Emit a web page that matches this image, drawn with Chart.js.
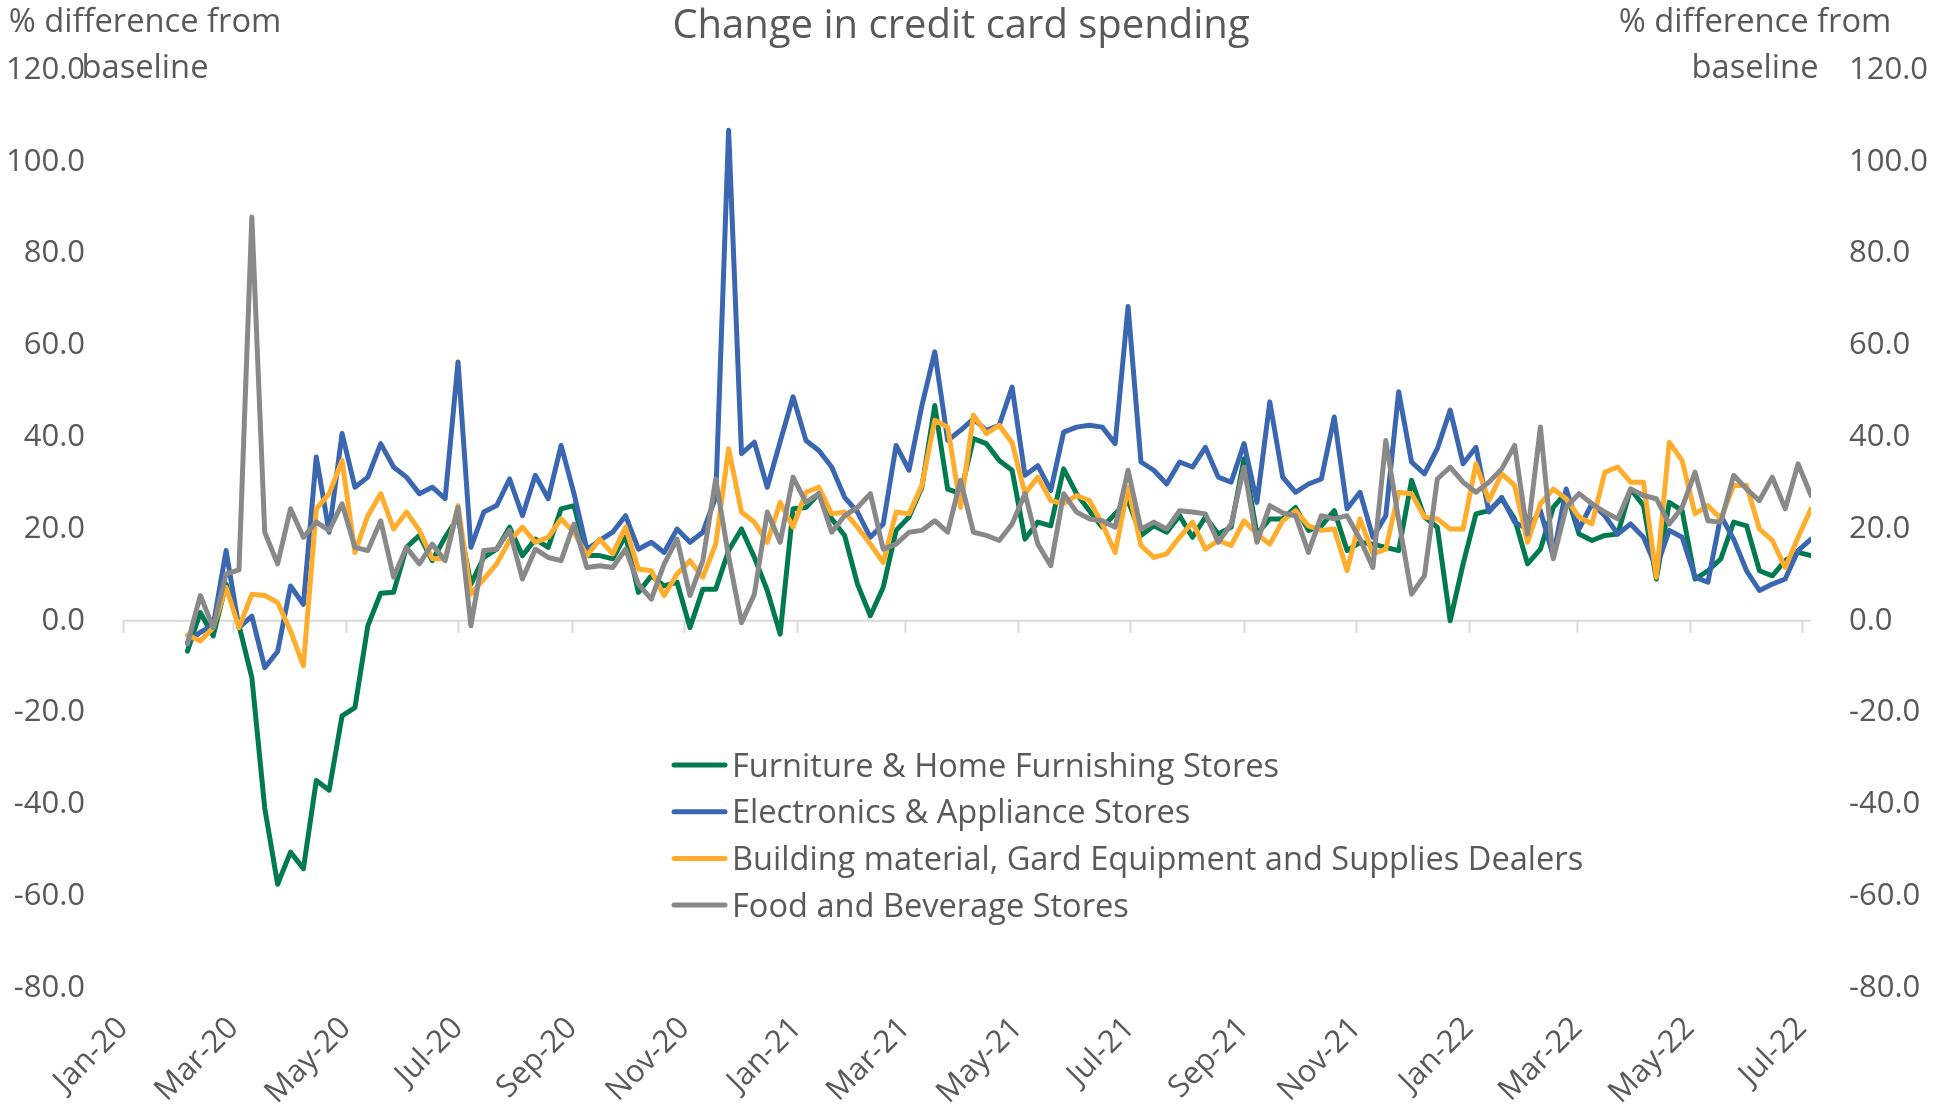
<!DOCTYPE html>
<html>
<head>
<meta charset="utf-8">
<script src="https://cdn.jsdelivr.net/npm/chart.js@4.4.1/dist/chart.umd.min.js"></script>
<style>
  html, body { margin: 0; padding: 0; background: #fff; }
  canvas { display: block; }
</style>
</head>
<body>
<canvas id="chart" width="1934" height="1118"></canvas>
<script>
// weekly readings, first week 5 Feb 2020, one value per week
var firstWeek = [2020, 1, 5];
var tickLabels = ['Jan-20','Mar-20','May-20','Jul-20','Sep-20','Nov-20','Jan-21','Mar-21','May-21','Jul-21','Sep-21','Nov-21','Jan-22','Mar-22','May-22','Jul-22'];
var seriesNames = [
    'Furniture & Home Furnishing Stores',
    'Electronics & Appliance Stores',
    'Building material, Gard Equipment and Supplies Dealers',
    'Food and Beverage Stores'
];
var seriesColors = ['#007A4E', '#3A67B0', '#FFAD2D', '#898989'];

var furniture = [
    -6.6, 1.8, -3.3, 8, -1, -12.4, -40.8, -57.4, -50.4, -54,
    -34.8, -36.9, -20.7, -18.9, -1.1, 6, 6.2, 16, 18.6, 13.1,
    18.2, 22.6, 8, 13.8, 15.6, 20.4, 14.2, 17.8, 16, 24.4,
    25.1, 14.2, 14.2, 13.5, 18.6, 6.2, 9.8, 7.6, 8.4, -1.5,
    6.9, 6.9, 15.3, 20, 13.8, 6.6, -2.9, 24.4, 24.7, 27.7,
    22.2, 18.6, 8, 1.1, 7.3, 19.7, 22.6, 29.1, 46.9, 28.7,
    27.7, 39.7, 38.6, 34.9, 32.8, 17.8, 21.5, 20.7, 33.1, 27.7,
    24, 20.4, 23.3, 26.2, 18.6, 20.7, 19.3, 22.9, 18.2, 22.6,
    18.9, 20.4, 35.3, 18.9, 22.2, 22.2, 24.7, 19.7, 20.7, 24,
    15.3, 17.1, 16.7, 16, 15.3, 30.6, 22.6, 20.4, 0, 12.4,
    23.3, 24, 26.6, 22.2, 12.4, 15.6, 24.7, 28, 18.9, 17.5,
    18.6, 18.9, 28.7, 25.1, 9.1, 25.8, 24, 9.1, 10.9, 13.5,
    21.5, 20.7, 10.9, 9.8, 13.1, 14.9, 14.2
];
var electronics = [
    -4.7, -2.5, -1, 15.3, -1.5, 1, -10.2, -6.7, 7.6, 3.6,
    35.7, 19.3, 40.8, 29.1, 31.3, 38.6, 33.5, 31.3, 27.7, 29.1,
    26.6, 56.4, 16, 23.7, 25.1, 30.9, 22.9, 31.7, 26.6, 38.2,
    27.7, 15.6, 17.5, 19.3, 22.9, 15.6, 17.1, 14.9, 20, 17.1,
    19.3, 27, 106.9, 36.4, 38.9, 29.1, 39, 48.8, 39.3, 37.1,
    33.5, 26.9, 23.7, 18.2, 21.1, 38.2, 32.8, 46.9, 58.6, 39.3,
    41.5, 44, 41.5, 42.6, 50.9, 31.7, 33.8, 28.4, 41.1, 42.2,
    42.6, 42.2, 38.6, 68.5, 34.6, 32.8, 29.8, 34.6, 33.5, 37.8,
    31.3, 30.2, 38.6, 25.8, 47.7, 31.3, 28, 29.8, 30.9, 44.4,
    24.4, 28, 18.2, 22.9, 49.9, 34.6, 32, 37.5, 45.9, 34.2,
    37.8, 23.7, 26.9, 21.5, 20, 24, 14, 28.7, 20, 25.5,
    22.9, 18.9, 21.1, 18.2, 11.6, 19.7, 18.2, 9.5, 8.4, 22.9,
    17.8, 10.9, 6.6, 8, 9.1, 15.3, 17.8
];
var building = [
    -3.1, -4.4, -1.5, 7.3, -1.5, 5.8, 5.5, 4, -2.2, -9.8,
    24.4, 27.7, 34.9, 14.9, 22.9, 27.7, 20, 23.7, 19.7, 13.5,
    13.5, 25.1, 5.8, 9.1, 12.4, 17.5, 20.4, 17.1, 18.2, 22.2,
    19.3, 14.2, 17.8, 14.6, 20.4, 11.3, 10.9, 5.5, 10.2, 13.1,
    9.5, 16.7, 37.5, 23.7, 21.5, 17.1, 25.8, 20.4, 28, 29.1,
    23.3, 23.7, 20.4, 16.7, 12.7, 23.7, 23.3, 29.5, 43.7, 42.2,
    24.7, 44.8, 40.8, 42.6, 38.8, 27.7, 31.3, 26.2, 25.5, 27.3,
    26.2, 21.1, 14.9, 29.1, 16.4, 13.8, 14.6, 18.2, 21.5, 15.6,
    17.5, 16.4, 21.8, 18.9, 16.7, 21.8, 24, 20.7, 19.7, 20,
    10.9, 22.2, 14.6, 15.6, 28, 27.7, 22.6, 22.2, 20, 20,
    34.2, 26.2, 32, 29.5, 17.1, 25.5, 28.7, 26.6, 22.6, 21.1,
    32.4, 33.5, 30.2, 30.2, 9.5, 38.9, 34.9, 23.3, 25.1, 22.2,
    29.5, 29.5, 20, 17.5, 11.6, 18.2, 24.4
];
var food = [
    -5, 5.5, -1.5, 10.2, 11.1, 88, 19.3, 12.4, 24.4, 18.2,
    21.5, 19.7, 25.5, 16, 15.3, 21.8, 9.5, 16, 12.4, 16.7,
    13.1, 24.7, -1.1, 15.3, 15.6, 19.7, 9.1, 15.6, 13.8, 13.1,
    21.1, 11.6, 12, 11.6, 15.6, 8, 4.7, 12.4, 17.8, 5.5,
    13.1, 30.9, 14, -0.4, 5.8, 23.7, 17.1, 31.3, 25.8, 27.7,
    19.3, 22.9, 24.7, 27.7, 15.6, 16.7, 19.3, 19.7, 21.8, 19.3,
    30.6, 19.3, 18.6, 17.5, 21.1, 27.7, 16.7, 12, 27.7, 23.7,
    22.2, 21.8, 20.4, 32.8, 20, 21.5, 20, 24, 23.7, 23.3,
    17.1, 21.1, 33.5, 17.1, 25.1, 23.5, 22.9, 14.9, 22.9, 22.2,
    22.9, 17.8, 11.6, 39.3, 22, 5.8, 9.8, 30.9, 33.5, 30.2,
    28, 30.2, 33.1, 38.2, 18.9, 42.2, 13.5, 24.7, 27.7, 25.5,
    23.7, 22.2, 28.7, 27.3, 26.6, 21.1, 24.7, 32.4, 21.8, 21.5,
    31.7, 28.7, 26.2, 31.3, 24.4, 34.2, 27.3
];

var DAY = 86400000;
var origin = Date.UTC(2020, 0, 1);
var monthIdx = {Jan:0,Feb:1,Mar:2,Apr:3,May:4,Jun:5,Jul:6,Aug:7,Sep:8,Oct:9,Nov:10,Dec:11};

function dayOf(y, m, d){
    return Math.round((Date.UTC(y, m, d) - origin) / DAY);
}

var startDay = dayOf(firstWeek[0], firstWeek[1], firstWeek[2]);
var tickDays = tickLabels.map(function(l){
    var p = l.split('-');
    return dayOf(2000 + parseInt(p[1], 10), monthIdx[p[0]], 1);
});

function toPoints(vals){
    return vals.map(function(v, i){ return {x: startDay + 7 * i, y: v}; });
}

var allSeries = [furniture, electronics, building, food];
var lastDay = startDay + 7 * (furniture.length - 1);

var textColor = '#595959';
var fontName = '"Open Sans", "Noto Sans", sans-serif';

var decor = {
    id: 'decor',
    beforeDatasetsDraw: function(chart){
        var ctx = chart.ctx;
        var x = chart.scales.x;
        var a = chart.chartArea;
        var y0 = chart.scales.y.getPixelForValue(0);
        ctx.save();
        ctx.strokeStyle = '#D9D9D9';
        ctx.lineWidth = 2;
        ctx.beginPath();
        ctx.moveTo(a.left, y0);
        ctx.lineTo(a.right, y0);
        x.ticks.forEach(function(t){
            var px = Math.round(x.getPixelForValue(t.value)) + 0.5;
            ctx.moveTo(px, y0);
            ctx.lineTo(px, y0 + 12);
        });
        ctx.stroke();
        ctx.restore();
    },
    afterDraw: function(chart){
        var ctx = chart.ctx;
        ctx.save();
        ctx.fillStyle = textColor;
        ctx.textBaseline = 'alphabetic';

        // title
        ctx.textAlign = 'center';
        ctx.font = '40px ' + fontName;
        ctx.fillText('Change in credit card spending', 961, 38);

        // axis titles
        ctx.font = '32.7px ' + fontName;
        ctx.fillText('% difference from', 145, 32);
        ctx.fillText('baseline', 145, 78);
        ctx.fillText('% difference from', 1755, 32);
        ctx.fillText('baseline', 1755, 78);

        // legend
        ctx.textAlign = 'left';
        ctx.font = '32.6px ' + fontName;
        chart.data.datasets.forEach(function(ds, i){
            var cy = 765 + i * 46.7;
            ctx.strokeStyle = ds.borderColor;
            ctx.lineWidth = 5;
            ctx.lineCap = 'round';
            ctx.beginPath();
            ctx.moveTo(674, cy);
            ctx.lineTo(725, cy);
            ctx.stroke();
            ctx.fillText(ds.label, 732, cy + 11.5);
        });
        ctx.restore();
    }
};

var datasets = allSeries.map(function(vals, i){
    return {
        label: seriesNames[i],
        data: toPoints(vals),
        borderColor: seriesColors[i],
        backgroundColor: seriesColors[i],
        borderWidth: 5,
        borderJoinStyle: 'round',
        borderCapStyle: 'round',
        pointRadius: 0,
        tension: 0,
        fill: false,
        order: allSeries.length - 1 - i
    };
});

var yTicks = {
    stepSize: 20,
    color: textColor,
    padding: 38,
    font: {family: fontName, size: 31},
    callback: function(v){ return v.toFixed(1); }
};

var chart = new Chart(document.getElementById('chart'), {
    type: 'line',
    data: {datasets: datasets},
    options: {
        responsive: false,
        animation: false,
        devicePixelRatio: 1,
        layout: {padding: {top: 70, left: 0, right: 0, bottom: 0}},
        plugins: {
            legend: {display: false},
            title: {display: false},
            tooltip: {enabled: false}
        },
        scales: {
            x: {
                type: 'linear',
                min: 0,
                max: lastDay,
                grid: {display: false, drawTicks: false},
                border: {display: false},
                afterBuildTicks: function(scale){
                    scale.ticks = tickDays.map(function(d){ return {value: d}; });
                },
                afterFit: function(scale){ scale.height = 130; },
                ticks: {
                    autoSkip: false,
                    minRotation: 45,
                    maxRotation: 45,
                    padding: 22,
                    color: textColor,
                    font: {family: fontName, size: 31},
                    callback: function(v, i){ return tickLabels[i]; }
                }
            },
            y: {
                position: 'left',
                min: -80,
                max: 120,
                grid: {display: false, drawTicks: false},
                border: {display: false},
                afterFit: function(scale){ scale.width = 123; },
                ticks: yTicks
            },
            y2: {
                position: 'right',
                min: -80,
                max: 120,
                grid: {display: false, drawTicks: false},
                border: {display: false},
                afterFit: function(scale){ scale.width = 123; },
                ticks: yTicks
            }
        }
    },
    plugins: [decor]
});
</script>
</body>
</html>
